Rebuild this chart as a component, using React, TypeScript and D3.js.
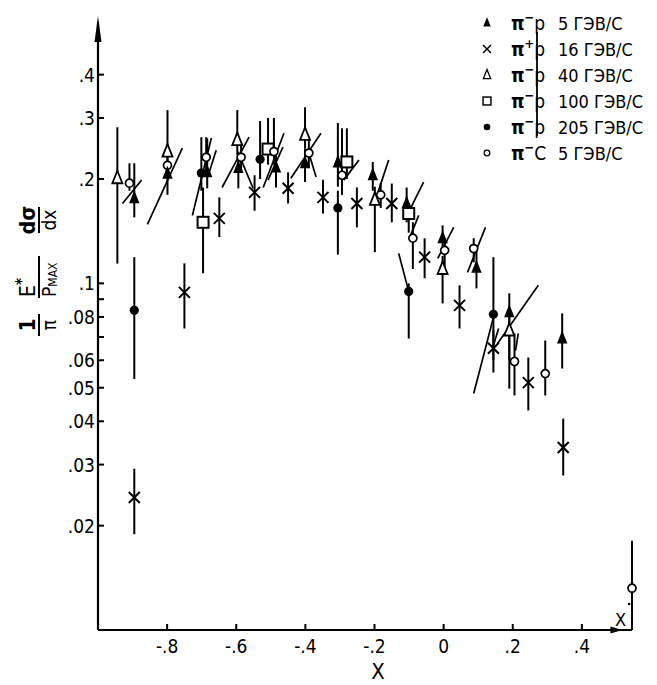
import React from 'react';
import * as d3 from 'd3';

const W = 657;
const H = 685;

// each point: [x, value, error low, error high]
const pimP5 = [
  [-0.895, 0.176, 0.155, 0.222],
  [-0.799, 0.207, 0.18, 0.225],
  [-0.684, 0.209, 0.188, 0.262],
  [-0.594, 0.215, 0.188, 0.24],
  [-0.485, 0.216, 0.189, 0.235],
  [-0.401, 0.222, 0.196, 0.245],
  [-0.306, 0.223, 0.19, 0.29],
  [-0.205, 0.205, 0.185, 0.224],
  [-0.107, 0.17, 0.15, 0.189],
  [-0.003, 0.135, 0.125, 0.147],
  [0.095, 0.111, 0.0967, 0.125],
  [0.19, 0.0825, 0.06, 0.0936],
  [0.343, 0.0693, 0.0568, 0.0819],
];

const pipP16 = [
  [-0.895, 0.0241, 0.0189, 0.0292],
  [-0.75, 0.0942, 0.0741, 0.1142],
  [-0.649, 0.154, 0.136, 0.177],
  [-0.547, 0.183, 0.162, 0.205],
  [-0.45, 0.188, 0.17, 0.209],
  [-0.349, 0.177, 0.159, 0.199],
  [-0.251, 0.17, 0.145, 0.189],
  [-0.15, 0.17, 0.15, 0.194],
  [-0.055, 0.119, 0.1034, 0.1349],
  [0.046, 0.0864, 0.0741, 0.0987],
  [0.144, 0.065, 0.0553, 0.0731],
  [0.245, 0.0517, 0.043, 0.0611],
  [0.346, 0.0336, 0.0279, 0.0407],
];

const pimP40 = [
  [-0.944, 0.201, 0.114, 0.282],
  [-0.799, 0.24, 0.215, 0.316],
  [-0.597, 0.259, 0.235, 0.316],
  [-0.401, 0.268, 0.245, 0.322],
  [-0.199, 0.174, 0.123, 0.19],
  [-0.003, 0.11, 0.0875, 0.12],
  [0.19, 0.0731, 0.0497, 0.08],
];

const pimP100 = [
  [-0.696, 0.15, 0.107, 0.189],
  [-0.508, 0.244, 0.22, 0.3],
  [-0.28, 0.224, 0.2, 0.28],
  [-0.101, 0.159, 0.14, 0.17],
];

const pimP205 = [
  [-0.895, 0.0836, 0.053, 0.119],
  [-0.701, 0.208, 0.185, 0.264],
  [-0.531, 0.228, 0.2, 0.294],
  [-0.306, 0.165, 0.121, 0.185],
  [-0.101, 0.0948, 0.0693, 0.1],
  [0.144, 0.0814, 0.06, 0.119],
];

const pimC5 = [
  [-0.909, 0.1945, 0.185, 0.222],
  [-0.799, 0.219, 0.2, 0.24],
  [-0.687, 0.231, 0.21, 0.264],
  [-0.586, 0.231, 0.21, 0.25],
  [-0.491, 0.24, 0.22, 0.3],
  [-0.39, 0.2376, 0.215, 0.26],
  [-0.294, 0.205, 0.18, 0.28],
  [-0.182, 0.18, 0.165, 0.195],
  [-0.089, 0.135, 0.11, 0.15],
  [0.003, 0.1245, 0.11, 0.135],
  [0.087, 0.126, 0.115, 0.135],
  [0.205, 0.0595, 0.0475, 0.0717],
  [0.294, 0.0549, 0.0475, 0.0684],
  [0.545, 0.0132, 0.01, 0.0181],
];

// slanted strokes next to the points: [x1, v1, x2, v2]
const slants = [
  [-0.929, 0.17, -0.874, 0.1985],
  [-0.857, 0.148, -0.756, 0.2456],
  [-0.727, 0.157, -0.672, 0.2625],
  [-0.681, 0.205, -0.658, 0.242],
  [-0.641, 0.189, -0.563, 0.264],
  [-0.586, 0.227, -0.551, 0.188],
  [-0.522, 0.189, -0.462, 0.271],
  [-0.508, 0.1985, -0.465, 0.247],
  [-0.442, 0.201, -0.355, 0.271],
  [-0.39, 0.2376, -0.369, 0.2025],
  [-0.289, 0.1985, -0.245, 0.227],
  [-0.19, 0.183, -0.159, 0.227],
  [-0.095, 0.165, -0.058, 0.196],
  [-0.095, 0.138, -0.072, 0.157],
  [-0.13, 0.122, -0.101, 0.0948],
  [-0.017, 0.118, 0.029, 0.145],
  [0.069, 0.1076, 0.121, 0.145],
  [0.087, 0.0481, 0.144, 0.0797],
  [0.156, 0.0671, 0.274, 0.0987],
  [0.208, 0.064, 0.216, 0.0717],
  [0.144, 0.0662, 0.159, 0.0741],
];

const xTicks = [-0.8, -0.6, -0.4, -0.2, 0, 0.2, 0.4];
const xTickLabels = ['-.8', '-.6', '-.4', '-.2', '0', '.2', '.4'];
const yTicks = [0.02, 0.03, 0.04, 0.05, 0.06, 0.07, 0.08, 0.09, 0.1, 0.2, 0.3, 0.4];
const yTickLabels = ['.02', '.03', '.04', '.05', '.06', '', '.08', '', '.1', '.2', '.3', '.4'];

const legendKinds = ['triFilled', 'cross', 'triOpen', 'square', 'dotFilled', 'dotOpen'];
const legendCharges = ['−', '+', '−', '−', '−', '−'];
const legendTargets = ['p', 'p', 'p', 'p', 'p', 'C'];
const legendEnergies = ['5', '16', '40', '100', '205', '5'];

const series = [
  { kind: 'dotFilled', data: pimP205 },
  { kind: 'cross', data: pipP16 },
  { kind: 'square', data: pimP100 },
  { kind: 'triOpen', data: pimP40 },
  { kind: 'dotOpen', data: pimC5 },
  { kind: 'triFilled', data: pimP5 },
];

const FONT = '"DejaVu Sans Condensed", "Liberation Sans Narrow", "DejaVu Sans", sans-serif';

const x = d3.scaleLinear().domain([-1, 0.545]).range([98, 632]);
const y = d3.scaleLog().domain([0.01, 0.575]).range([630, 20]);

function Marker({ kind, cx, cy, s = 1 }) {
  const t = `translate(${cx},${cy}) scale(${s})`;
  if (kind === 'triFilled')
    return <path transform={t} d="M0,-8L5.2,5L-5.2,5Z" fill="#000" />;
  if (kind === 'triOpen')
    return <path transform={t} d="M0,-7.5L5,5L-5,5Z" fill="#fff" stroke="#000" strokeWidth={1.8} />;
  if (kind === 'square')
    return <rect transform={t} x={-5.5} y={-5.5} width={11} height={11} fill="#fff" stroke="#000" strokeWidth={2} />;
  if (kind === 'dotFilled')
    return <circle transform={t} r={4.6} fill="#000" />;
  if (kind === 'dotOpen')
    return <circle transform={t} r={4} fill="#fff" stroke="#000" strokeWidth={1.7} />;
  return (
    <g transform={t} stroke="#000" strokeWidth={2}>
      <line x1={-5.5} y1={-5.5} x2={5.5} y2={5.5} />
      <line x1={-5.5} y1={5.5} x2={5.5} y2={-5.5} />
    </g>
  );
}

function Fraction({ cy, w, num, den }) {
  return (
    <g transform={`translate(38,${cy}) rotate(-90)`} fontFamily={FONT} textAnchor="middle">
      <text y={-3} fontSize={21} fontWeight="bold">{num}</text>
      <line x1={-w / 2} x2={w / 2} y1={1} y2={1} stroke="#000" strokeWidth={2} />
      <text y={18} fontSize={19}>{den}</text>
    </g>
  );
}

export default function App() {
  return (
    <svg width={W} height={H} style={{ position: 'absolute', left: 0, top: 0, background: '#fff' }}>
      <rect width={W} height={H} fill="#fff" />

      {/* axes */}
      <g stroke="#000" strokeWidth={2.2} fill="none">
        <line x1={x(-1)} x2={x(-1)} y1={y(0.01)} y2={22} />
        <line x1={x(-1)} x2={x(0.545)} y1={y(0.01)} y2={y(0.01)} />
      </g>
      <path d={`M${x(-1)},16L${x(-1) - 3.5},42L${x(-1) + 3.5},42Z`} fill="#000" />
      <path d={`M${x(0.5) + 6},${y(0.01)}L${x(0.5) - 6},${y(0.01) - 3.5}L${x(0.5) - 6},${y(0.01) + 3.5}Z`} fill="#000" />

      {yTicks.map((t, i) => (
        <g key={'yt' + i}>
          <line x1={x(-1)} x2={x(-1) + 6} y1={y(t)} y2={y(t)} stroke="#000" strokeWidth={2} />
          <text x={x(-1) - 3} y={y(t) + 7} textAnchor="end" fontFamily={FONT} fontSize={19}>{yTickLabels[i]}</text>
        </g>
      ))}
      {xTicks.map((t, i) => (
        <g key={'xt' + i}>
          <line x1={x(t)} x2={x(t)} y1={y(0.01)} y2={y(0.01) - 6} stroke="#000" strokeWidth={2} />
          <text x={x(t)} y={653} textAnchor="middle" fontFamily={FONT} fontSize={19}>{xTickLabels[i]}</text>
        </g>
      ))}

      <text x={x(-0.19)} y={679} textAnchor="middle" fontFamily={FONT} fontSize={22}>X</text>
      <text x={x(0.512)} y={626} textAnchor="middle" fontFamily={FONT} fontSize={18}>X</text>
      <circle cx={x(0.537)} cy={604} r={1.3} fill="#000" />

      {/* y label */}
      <Fraction cy={325} w={22} num="1" den="π" />
      <g transform="translate(38,277) rotate(-90)" fontFamily={FONT}>
        <text x={-20} y={-3} fontSize={21}>E<tspan dy={-8} fontSize={15} fontWeight="bold">*</tspan></text>
        <line x1={-21} x2={21} y1={1} y2={1} stroke="#000" strokeWidth={2} />
        <text x={-20} y={18} fontSize={19}>P<tspan fontSize={12} dy={1}>MAX</tspan></text>
      </g>
      <Fraction cy={220} w={26} num="dσ" den="dx" />

      {/* slanted strokes */}
      {slants.map((s, i) => (
        <line key={'s' + i} x1={x(s[0])} y1={y(s[1])} x2={x(s[2])} y2={y(s[3])} stroke="#000" strokeWidth={1.7} />
      ))}

      {/* error bars */}
      {series.map((sr, j) =>
        sr.data.map((d, i) => (
          <line key={`e${j}-${i}`} x1={x(d[0])} x2={x(d[0])} y1={y(d[2])} y2={y(d[3])} stroke="#000" strokeWidth={2} />
        ))
      )}

      {/* markers */}
      {series.map((sr, j) =>
        sr.data.map((d, i) => <Marker key={`m${j}-${i}`} kind={sr.kind} cx={x(d[0])} cy={y(d[1])} />)
      )}

      {/* legend */}
      <line x1={537} x2={537} y1={32} y2={136} stroke="#000" strokeWidth={1.8} />
      {legendKinds.map((k, i) => {
        const ly = 23 + i * 26;
        return (
          <g key={'lg' + i}>
            <Marker kind={k} cx={487} cy={ly} s={0.72} />
            <text x={511} y={ly + 7} fontFamily={FONT} fontSize={19}>
              <tspan fontWeight="bold">π</tspan>
              <tspan dy={-8} fontSize={13} fontWeight="bold">{legendCharges[i]}</tspan>
              <tspan dy={8}>{legendTargets[i]}</tspan>
            </text>
            <text x={558} y={ly + 7} fontFamily={FONT} fontSize={18}>{legendEnergies[i]} ГЭВ/С</text>
          </g>
        );
      })}
    </svg>
  );
}
